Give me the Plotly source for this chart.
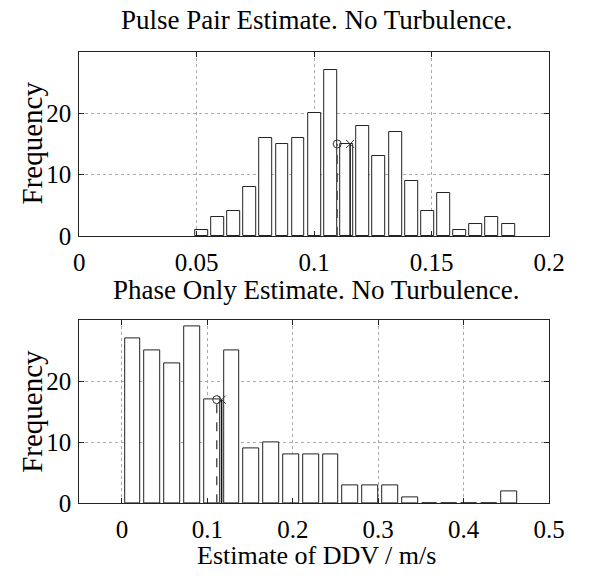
import plotly.graph_objects as go

# ---- data ----
pp_centers = [0.0520, 0.0589, 0.0657, 0.0726, 0.0795, 0.0864, 0.0932, 0.1001, 0.1070, 0.1139,
              0.1207, 0.1276, 0.1345, 0.1414, 0.1482, 0.1551, 0.1620, 0.1689, 0.1757, 0.1826]
pp_counts = [1, 3, 4, 8, 16, 15, 16, 20, 27, 15, 18, 13, 17, 9, 4, 7, 1, 2, 3, 2]
pp_bin_width = 0.00687
pp_true = 0.1098      # 'o' marker
pp_mean = 0.1153      # 'x' marker
pp_marker_height = 15

po_centers = [0.0127, 0.0358, 0.0590, 0.0822, 0.1053, 0.1285, 0.1517, 0.1749, 0.1980, 0.2212,
              0.2444, 0.2675, 0.2907, 0.3139, 0.3370, 0.3602, 0.3834, 0.4066, 0.4297, 0.4529]
po_counts = [27, 25, 23, 29, 17, 25, 9, 10, 8, 8, 8, 3, 3, 3, 1, 0, 0, 0, 0, 2]
po_bin_width = 0.02317
po_true = 0.1110
po_mean = 0.1167
po_marker_height = 17

top_xticks = [0, 0.05, 0.1, 0.15, 0.2]
top_xlabels = ["0", "0.05", "0.1", "0.15", "0.2"]
bot_xticks = [0, 0.1, 0.2, 0.3, 0.4, 0.5]
bot_xlabels = ["0", "0.1", "0.2", "0.3", "0.4", "0.5"]
yticks = [0, 10, 20]

FONT = "Liberation Serif, Times New Roman, serif"
W, H = 595, 582
TICK_SIZE = 25
TEXT_SIZE = 27

fig = go.Figure()

def add_panel(centers, counts, bw, xt, xm, mh, xa, ya):
    fig.add_trace(go.Bar(x=centers, y=counts, width=bw * 0.8,
                         marker=dict(color="white", line=dict(color="#222", width=1)),
                         xaxis=xa, yaxis=ya, showlegend=False))
    # stem for 'o'
    fig.add_trace(go.Scatter(x=[xt, xt], y=[0, mh], mode="lines",
                             line=dict(color="#555", width=1.5, dash="dash"),
                             xaxis=xa, yaxis=ya, showlegend=False))
    fig.add_trace(go.Scatter(x=[xt], y=[mh], mode="markers",
                             marker=dict(symbol="circle-open", size=8, color="#333", line=dict(width=1)),
                             xaxis=xa, yaxis=ya, showlegend=False))
    # stem for 'x'
    fig.add_trace(go.Scatter(x=[xm, xm], y=[0, mh], mode="lines",
                             line=dict(color="#111", width=1.5),
                             xaxis=xa, yaxis=ya, showlegend=False))
    fig.add_trace(go.Scatter(x=[xm], y=[mh], mode="markers",
                             marker=dict(symbol="x-thin-open", size=8, color="#333", line=dict(width=1)),
                             xaxis=xa, yaxis=ya, showlegend=False))

add_panel(pp_centers, pp_counts, pp_bin_width, pp_true, pp_mean, pp_marker_height, "x", "y")
add_panel(po_centers, po_counts, po_bin_width, po_true, po_mean, po_marker_height, "x2", "y2")

x0, x1 = 76 / W, 564 / W
axis_common = dict(showline=True, linecolor="#222", linewidth=1, mirror="ticks",
                   ticks="inside", ticklen=5, tickcolor="#222",
                   showgrid=True, gridcolor="#aaa", griddash="dot", gridwidth=1,
                   zeroline=False, tickfont=dict(family=FONT, size=TICK_SIZE, color="black"))
xaxis_extra = dict(ticklabelstandoff=4)
yaxis_extra = dict(ticklabelstandoff=2)

fig.update_layout(
    width=W, height=H, margin=dict(l=0, r=0, t=0, b=0),
    paper_bgcolor="white", plot_bgcolor="white", bargap=0,
    xaxis=dict(domain=[x0, x1], range=[0, 0.2], tickvals=top_xticks, ticktext=top_xlabels,
               anchor="y", **axis_common, **xaxis_extra),
    yaxis=dict(domain=[1 - 241.7 / H, 1 - 53.3 / H], range=[0, 30], tickvals=yticks,
               anchor="x", **axis_common, **yaxis_extra),
    xaxis2=dict(domain=[x0, x1], range=[-0.05, 0.5], tickvals=bot_xticks, ticktext=bot_xlabels,
                anchor="y2", **axis_common, **xaxis_extra),
    yaxis2=dict(domain=[1 - 515.7 / H, 1 - 328.3 / H], range=[0, 30], tickvals=yticks,
                anchor="x2", **axis_common, **yaxis_extra),
)

def ann(text, x, y, angle=0, size=TEXT_SIZE):
    fig.add_annotation(text=text, x=x / W, y=1 - y / H, xref="paper", yref="paper",
                       showarrow=False, textangle=angle,
                       font=dict(family=FONT, size=size, color="black"),
                       xanchor="center", yanchor="middle")

ann("Pulse Pair Estimate. No Turbulence.", 322, 20)
ann("Phase Only Estimate. No Turbulence.", 322, 297)
ann("Estimate of DDV / m/s", 322, 569, size=26)
ann("Frequency", 27, 147, -90, 29)
ann("Frequency", 27, 422, -90, 29)

fig.write_html("out.html")
